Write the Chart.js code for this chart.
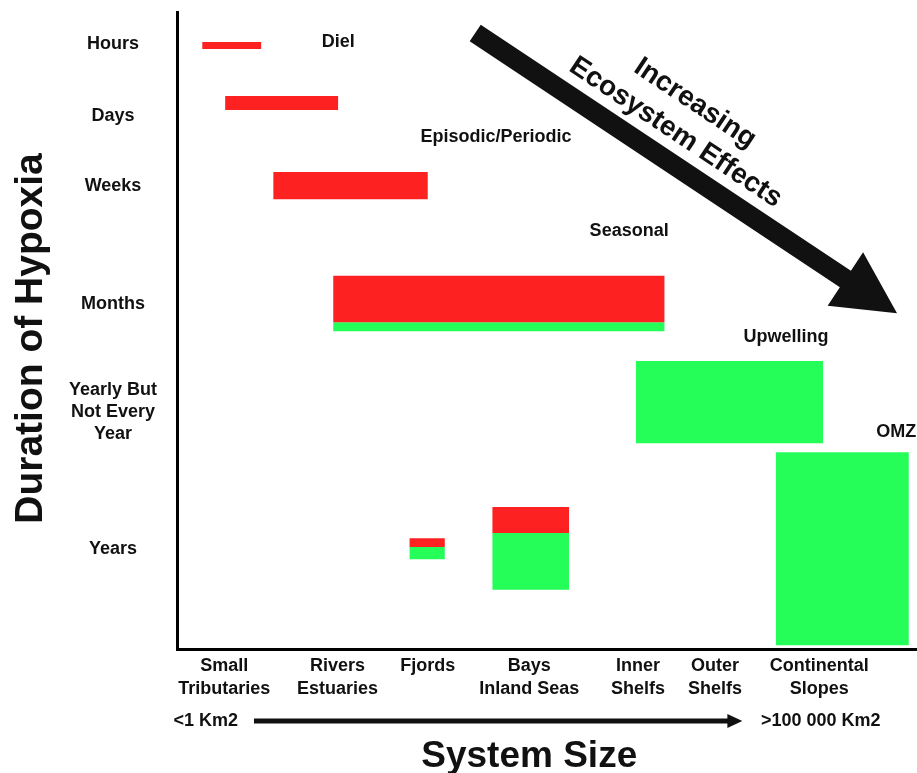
<!DOCTYPE html>
<html>
<head>
<meta charset="utf-8">
<script src="https://cdn.jsdelivr.net/npm/chart.js@4.4.0/dist/chart.umd.min.js"></script>
<style>
  html, body { margin: 0; padding: 0; background: #fff; }
  #wrap { width: 917px; height: 773px; }
</style>
</head>
<body>
<div id="wrap"><canvas id="grafico"></canvas></div>
<script>
const fuente = "'Liberation Sans', Arial, sans-serif";

// eje x: tamaño relativo del sistema (0-100), eje y: duración relativa (0-100, hacia abajo)
const sizeLabels = [['Small', 'Tributaries'], ['Rivers', 'Estuaries'], ['Fjords'], ['Bays', 'Inland Seas'], ['Inner', 'Shelfs'], ['Outer', 'Shelfs'], ['Continental', 'Slopes']];
const sizeTicks = [6.4, 21.7, 33.9, 47.6, 62.3, 72.7, 86.8];
const durationLabels = ['Hours', 'Days', 'Weeks', 'Months', ['Yearly But', 'Not Every', 'Year'], 'Years'];
const durationTicks = [5.0, 16.3, 27.3, 45.8, 62.8, 84.3];

// cajas: [x inicio, x fin, y arriba, y abajo]
const cajasRojas = [
  [3.4, 11.4, 4.7, 5.8],
  [6.5, 21.8, 13.2, 15.4],
  [13.0, 33.9, 25.1, 29.4],
  [21.1, 65.9, 41.4, 48.7],
  [31.4, 36.2, 82.6, 84.0],
  [42.6, 53.0, 77.7, 81.8]
];
const cajasVerdes = [
  [21.1, 65.9, 48.7, 50.1],
  [62.0, 87.3, 54.8, 67.7],
  [80.9, 98.9, 69.1, 99.4],
  [31.4, 36.2, 84.0, 85.9],
  [42.6, 53.0, 81.8, 90.7]
];

const regimeLabels = ['Diel', 'Episodic/Periodic', 'Seasonal', 'Upwelling', 'OMZ'];
const regimeX = [21.8, 43.1, 61.1, 82.3, 97.2];
const regimeY = [4.7, 19.7, 34.4, 51.0, 65.9];

const sizeRange = ['<1 Km2', '>100 000 Km2'];
const tituloX = 'System Size';
const tituloY = 'Duration of Hypoxia';

function caja(b, color) {
  return {
    data: [{ x: b[0], y: b[2] }, { x: b[1], y: b[2] }],
    fill: { value: b[3] },
    backgroundColor: color,
    borderColor: 'rgba(0,0,0,0)',
    borderWidth: 0,
    pointRadius: 0,
    tension: 0
  };
}

const extras = {
  id: 'extras',
  afterDraw(chart) {
    const { ctx, chartArea } = chart;
    const x = chart.scales.x, y = chart.scales.y;
    ctx.save();
    ctx.fillStyle = '#111';
    ctx.textAlign = 'center';
    ctx.textBaseline = 'middle';

    // nombres de los regímenes
    ctx.font = 'bold 18px ' + fuente;
    regimeLabels.forEach((t, i) => {
      ctx.fillText(t, x.getPixelForValue(regimeX[i]), y.getPixelForValue(regimeY[i]));
    });

    // flecha diagonal
    const x0 = x.getPixelForValue(40.3), y0 = y.getPixelForValue(3.3);
    const x1 = x.getPixelForValue(97.3), y1 = y.getPixelForValue(47.3);
    const ang = Math.atan2(y1 - y0, x1 - x0);
    const largo = Math.hypot(x1 - x0, y1 - y0);
    ctx.save();
    ctx.translate(x0, y0);
    ctx.rotate(ang);
    ctx.beginPath();
    ctx.moveTo(0, -10);
    ctx.lineTo(largo - 62, -10);
    ctx.lineTo(largo - 62, -32);
    ctx.lineTo(largo, 0);
    ctx.lineTo(largo - 62, 32);
    ctx.lineTo(largo - 62, 10);
    ctx.lineTo(0, 10);
    ctx.closePath();
    ctx.fill();
    ctx.font = 'bold 28px ' + fuente;
    ctx.fillText('Increasing', 222, -63);
    ctx.fillText('Ecosystem Effects', 222, -28);
    ctx.restore();

    // fila de tamaños
    const yb = chartArea.bottom + 72;
    ctx.font = 'bold 18px ' + fuente;
    ctx.fillText(sizeRange[0], x.getPixelForValue(3.9), yb);
    ctx.fillText(sizeRange[1], x.getPixelForValue(87.0), yb);
    const a0 = x.getPixelForValue(10.4), a1 = x.getPixelForValue(76.4);
    ctx.fillRect(a0, yb - 2.5, a1 - a0 - 14, 5);
    ctx.beginPath();
    ctx.moveTo(a1 - 15, yb - 7);
    ctx.lineTo(a1, yb);
    ctx.lineTo(a1 - 15, yb + 7);
    ctx.closePath();
    ctx.fill();

    // título del eje x (centrado bajo "Bays")
    ctx.font = 'bold 37px ' + fuente;
    ctx.fillText(tituloX, x.getPixelForValue(47.6), chartArea.bottom + 108);

    // título del eje y
    ctx.save();
    ctx.translate(31, (chartArea.top + chartArea.bottom) / 2 + 8);
    ctx.rotate(-Math.PI / 2);
    ctx.font = 'bold 39px ' + fuente;
    ctx.fillText(tituloY, 0, 0);
    ctx.restore();
    ctx.restore();
  }
};

new Chart(document.getElementById('grafico'), {
  type: 'line',
  data: {
    datasets: [
      ...cajasRojas.map(b => caja(b, '#fd2121')),
      ...cajasVerdes.map(b => caja(b, '#25fd58'))
    ]
  },
  plugins: [extras],
  options: {
    responsive: true,
    maintainAspectRatio: false,
    animation: false,
    layout: { padding: { top: 12, right: 0, left: 0, bottom: 0 } },
    plugins: { legend: { display: false }, tooltip: { enabled: false } },
    scales: {
      x: {
        type: 'linear',
        min: 0,
        max: 100,
        afterBuildTicks: s => { s.ticks = sizeTicks.map(v => ({ value: v })); },
        afterFit: s => { s.height = 124; s.paddingLeft = 0; s.paddingRight = 0; },
        grid: { display: false, drawTicks: false },
        border: { display: true, color: '#000', width: 3 },
        ticks: {
          autoSkip: false, maxRotation: 0, padding: 6, color: '#111',
          font: { family: fuente, size: 18, weight: 'bold', lineHeight: 1.25 },
          callback: (v, i) => sizeLabels[i]
        }
      },
      y: {
        type: 'linear',
        min: 0,
        max: 100,
        reverse: true,
        afterBuildTicks: s => { s.ticks = durationTicks.map(v => ({ value: v })); },
        afterFit: s => { s.width = 177; s.paddingTop = 0; s.paddingBottom = 0; },
        grid: { display: false, drawTicks: false },
        border: { display: true, color: '#000', width: 3 },
        ticks: {
          autoSkip: false, padding: 20, crossAlign: 'center', color: '#111',
          font: { family: fuente, size: 18, weight: 'bold', lineHeight: 1.22 },
          callback: (v, i) => durationLabels[i]
        }
      }
    }
  }
});
</script>
</body>
</html>
